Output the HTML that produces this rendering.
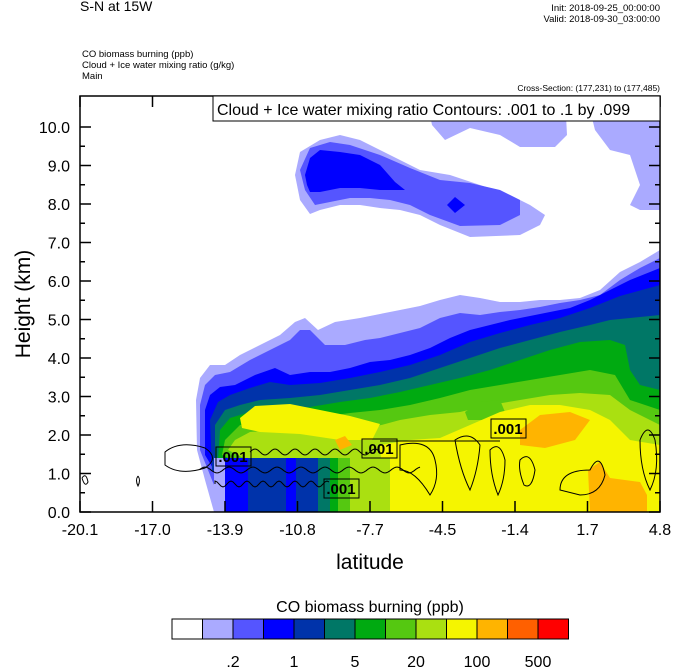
<!DOCTYPE html><html><head><style>
body{margin:0;background:#fff;}
svg{display:block;font-family:"Liberation Sans",Arial,sans-serif;}
</style></head><body>
<svg id="s" width="674" height="668" xmlns="http://www.w3.org/2000/svg">
<rect width="674" height="668" fill="#fff"/>
<g id="fill"></g>
<g id="cont" fill="none" stroke="#000" stroke-width="1"></g>
<g id="labs"></g>
<rect x="80" y="96" width="580" height="416" fill="none" stroke="#000" stroke-width="1.5"/>
<g id="ax" stroke="#000" stroke-width="1.5"></g>
<g id="txt"></g>
<text x="80" y="11" font-size="14">S-N at 15W</text>
<text x="660" y="11" font-size="9.5" text-anchor="end">Init: 2018-09-25_00:00:00</text>
<text x="660" y="22" font-size="9.5" text-anchor="end">Valid: 2018-09-30_03:00:00</text>
<text x="82" y="57" font-size="9.5">CO biomass burning   (ppb)</text>
<text x="82" y="68" font-size="9.5">Cloud + Ice water mixing ratio   (g/kg)</text>
<text x="82" y="79" font-size="9.5">Main</text>
<text x="660" y="91" font-size="8.5" text-anchor="end">Cross-Section: (177,231) to (177,485)</text>
<rect x="213" y="96" width="447" height="25" fill="#fff" stroke="#000" stroke-width="1"/>
<text x="217" y="115" font-size="16">Cloud + Ice water mixing ratio Contours: .001 to .1 by .099</text>
<text x="370" y="569" font-size="21" text-anchor="middle">latitude</text>
<text transform="translate(30,304) rotate(-90)" font-size="21" text-anchor="middle">Height (km)</text>
<text x="370" y="612" font-size="16" text-anchor="middle">CO biomass burning  (ppb)</text>
<g id="cb"></g>
</svg>
<script>
const NS="http://www.w3.org/2000/svg";
function el(p,t,a,txt){const e=document.createElementNS(NS,t);for(const k in a)e.setAttribute(k,a[k]);if(txt!==undefined)e.textContent=txt;document.getElementById(p).appendChild(e);return e;}
const C=["#ffffff","#aaaaff","#5555ff","#0000ff","#0033aa","#007766","#00aa11","#55c811","#aae011","#f5f500","#ffb400","#ff6000","#ff0000"];
function poly(c,pts){el("fill","polygon",{points:pts.map(p=>p.join(",")).join(" "),fill:c});}
function layer(c,left,top){poly(c,[...left,...top,[660,512]]);}
layer(C[1],[[214,512],[205,480],[197,450],[196,400],[200,378],[210,365]],[[225,365],[240,355],[260,345],[280,335],[295,322],[305,318],[318,330],[335,322],[360,318],[380,314],[400,310],[420,306],[440,300],[460,295],[480,298],[500,302],[520,302],[540,300],[560,300],[580,298],[600,290],[620,272],[640,262],[660,250]]);
layer(C[2],[[225,512],[212,480],[200,450],[200,405],[205,385],[215,375]],[[230,372],[250,360],[270,350],[290,340],[300,330],[310,330],[325,345],[345,345],[365,340],[380,338],[400,333],[420,328],[440,318],[460,313],[480,315],[500,312],[520,310],[540,307],[560,303],[580,300],[600,295],[620,280],[640,268],[660,258]]);
layer(C[3],[[235,512],[220,480],[205,455],[205,410],[210,395],[220,387]],[[235,385],[255,375],[275,368],[290,375],[310,372],[330,372],[350,368],[370,362],[390,360],[410,355],[430,348],[450,338],[470,330],[490,325],[510,320],[530,316],[550,312],[570,308],[590,300],[610,290],[630,280],[660,268]]);
layer(C[4],[[250,512],[212,470],[210,420],[218,402]],[[230,395],[250,388],[270,382],[290,385],[320,383],[350,378],[380,372],[410,365],[440,355],[470,342],[500,333],[530,325],[560,318],[590,308],[620,296],[660,285]]);
layer(C[5],[[300,512],[215,460],[215,425],[225,410]],[[240,405],[260,400],[290,398],[320,395],[350,390],[380,385],[410,378],[440,368],[470,358],[500,348],[530,340],[560,332],[590,325],[610,320],[630,318],[660,315]]);
layer(C[6],[[330,512],[218,460],[220,430],[230,418]],[[250,412],[280,410],[310,407],[340,402],[370,398],[400,392],[430,385],[460,378],[490,370],[520,360],[550,350],[580,342],[610,340],[625,345],[630,370],[640,385],[660,390]]);
layer(C[7],[[340,512],[222,455],[225,440],[240,425]],[[260,422],[290,420],[320,417],[350,413],[380,410],[410,405],[440,398],[470,390],[500,385],[530,380],[560,375],[590,370],[615,375],[630,400],[660,410]]);
layer(C[8],[[350,512],[228,450],[235,440],[250,432]],[[280,430],[310,432],[340,430],[370,428],[400,420],[430,415],[460,412],[490,405],[520,400],[550,395],[580,393],[610,395],[630,410],[660,425]]);
poly(C[7],[[465,412],[480,402],[500,400],[505,412],[485,420],[468,420]]);
poly(C[9],[[240,418],[255,406],[290,404],[320,410],[350,416],[380,424],[372,440],[340,440],[300,434],[260,432],[242,428]]);
poly(C[9],[[385,512],[380,445],[410,440],[440,438],[470,425],[500,412],[530,405],[560,405],[590,410],[610,420],[630,440],[660,445],[660,512]]);
poly(C[10],[[520,430],[540,415],[570,412],[590,420],[575,440],[545,448],[520,445]]);
poly(C[10],[[335,440],[345,436],[352,445],[340,450]]);
poly(C[10],[[590,512],[588,470],[600,462],[610,478],[640,482],[647,495],[647,512]]);
const bands=[[214,225,1],[225,248,3],[248,286,4],[286,296,3],[296,318,4],[318,330,5],[330,338,6],[338,350,7],[350,390,8]];
bands.forEach(b=>el("fill","rect",{x:b[0],y:458,width:b[1]-b[0],height:54,fill:C[b[2]]}));
poly(C[1],[[295,175],[300,152],[320,140],[340,135],[360,140],[380,150],[400,160],[420,170],[450,175],[480,185],[510,195],[530,205],[545,215],[540,225],[520,235],[470,237],[440,225],[420,215],[400,210],[380,208],[360,205],[340,205],[320,210],[310,214],[300,200]]);
poly(C[2],[[300,170],[310,148],[330,142],[350,145],[380,155],[410,168],[440,180],[470,183],[500,190],[520,200],[520,215],[500,225],[460,226],[430,215],[410,205],[390,200],[370,198],[350,198],[330,202],[315,205],[305,190]]);
poly(C[3],[[305,175],[310,158],[320,150],[340,152],[360,155],[380,165],[395,182],[405,190],[380,190],[360,188],[340,188],[320,192],[310,192],[307,185]]);
poly(C[3],[[447,205],[455,197],[465,205],[455,213]]);
poly(C[1],[[425,96],[565,96],[567,135],[555,147],[520,147],[500,135],[470,128],[445,140],[432,125],[428,105]]);
poly(C[1],[[590,96],[660,96],[660,210],[640,210],[630,205],[640,185],[630,155],[610,150],[595,130],[590,110]]);
poly(C[2],[[600,96],[625,96],[620,105],[605,105]]);
function wave(x0,x1,y,a,p,ph){let d="M"+x0+","+y;for(let x=x0;x<=x1;x+=2){d+=" L"+x+","+(y+a*Math.sin((x+ph)/p*2*Math.PI)).toFixed(1);}el("cont","path",{d:d});}
wave(250,380,452,3,20,0);wave(380,500,441,0,20,0);wave(200,420,470,3,24,5);wave(215,330,484,3,16,5);
el("cont","path",{d:"M82,478 Q86,472 88,482 Q85,488 82,478"});
el("cont","path",{d:"M138,476 Q141,480 138,486 Q135,480 138,476"});
el("cont","path",{d:"M165,452 Q180,440 205,448 Q220,458 205,468 Q180,476 165,465Z"});
el("cont","path",{d:"M400,445 Q430,438 435,460 Q440,480 430,495 Q415,470 400,470Z"});
el("cont","path",{d:"M455,440 Q470,430 480,445 Q478,470 470,490 Q460,470 455,440Z"});
el("cont","path",{d:"M490,450 Q500,440 505,460 Q505,480 498,495 Q490,475 490,450Z"});
el("cont","path",{d:"M520,460 Q530,450 535,470 Q532,490 524,485 Q518,470 520,460Z"});
el("cont","path",{d:"M640,440 Q648,420 655,440 Q660,470 650,490 Q640,470 640,440"});
el("cont","path",{d:"M560,490 Q560,470 590,470 Q600,450 605,475 Q600,495 580,495Z"});
[[216,447],[362,439],[324,479],[491,419]].forEach(b=>{el("labs","rect",{x:b[0],y:b[1],width:35,height:19,fill:"none",stroke:"#000"});el("labs","text",{x:b[0]+17,y:b[1]+15,"font-size":"15","font-weight":"bold","text-anchor":"middle"},".001");});
for(let i=0;i<=10;i++){const y=512-i*38.5;el("ax","line",{x1:80,y1:y,x2:91,y2:y});el("ax","line",{x1:660,y1:y,x2:649,y2:y});el("txt","text",{x:70,y:y+6,"font-size":"16","text-anchor":"end"},i.toFixed(1));
 if(i<10){const ym=y-19.25;el("ax","line",{x1:80,y1:ym,x2:85,y2:ym});el("ax","line",{x1:660,y1:ym,x2:655,y2:ym});}}
const xl=["-20.1","-17.0","-13.9","-10.8","-7.7","-4.5","-1.4","1.7","4.8"];
xl.forEach((t,i)=>{const x=80+i*72.5;el("ax","line",{x1:x,y1:512,x2:x,y2:501});el("ax","line",{x1:x,y1:96,x2:x,y2:107});el("txt","text",{x:x,y:535,"font-size":"16","text-anchor":"middle"},t);});
for(let i=0;i<13;i++){el("cb","rect",{x:172+i*30.5,y:619,width:30.5,height:20,fill:C[i],stroke:"#000","stroke-width":1});}
[[".2",233],["1",294],["5",355],["20",416],["100",477],["500",538]].forEach(l=>el("cb","text",{x:l[1],y:667,"font-size":"16","text-anchor":"middle"},l[0]));
</script>
</body></html>
